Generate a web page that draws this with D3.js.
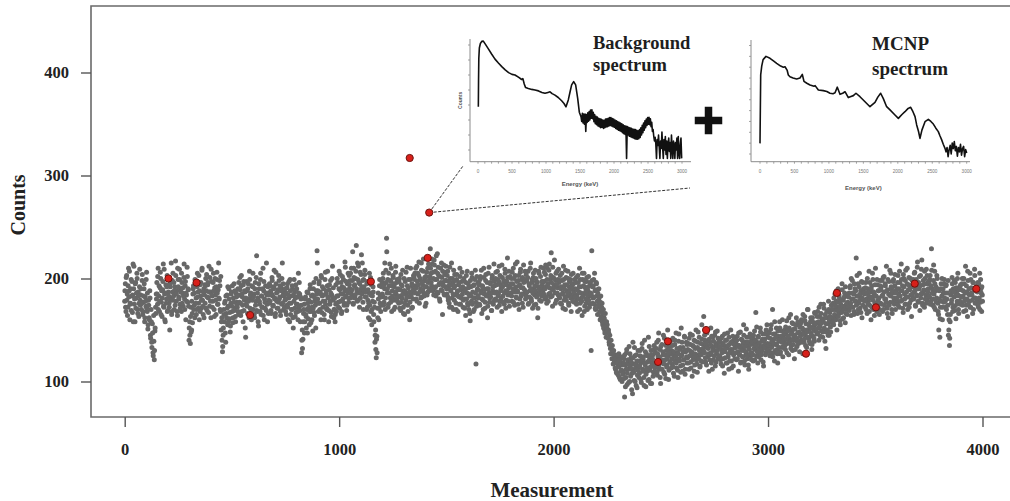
<!DOCTYPE html>
<html><head><meta charset="utf-8">
<script src="https://cdn.jsdelivr.net/npm/d3@7"></script>
<style>html,body{margin:0;padding:0;background:#fff;} svg{display:block;}</style>
</head><body>
<svg id="c" width="1010" height="501"></svg>
<script>
// ---------------- DATA ----------------
const MEAS_STEP = 3;   // measurements between successive samples in a row
const ROW_SPAN = 75;   // measurements covered by each row
// counts read for measurements r*75 + j*3
const countRows = [
[178,195,168,203,185,172,210,188,160,176,199,183,167,214,190,175,158,196,181,205,170,187,163,192,179],
[184,170,198,165,177,190,158,182,173,206,168,151,179,162,188,145,170,138,156,128,164,121,149,172,185],
[196,175,210,183,168,191,200,177,163,189,214,172,185,158,194,180,203,169,187,176,150,192,181,165,198],
[205,183,170,192,217,178,188,164,199,182,209,175,190,168,196,186,173,201,180,193,160,184,211,177,189],
[140,158,137,172,150,166,185,193,174,162,198,181,170,205,187,176,160,194,183,171,208,179,165,190,184],
[176,200,188,169,194,181,212,173,187,162,197,183,178,205,170,191,184,165,199,186,175,215,180,193,168],
[150,162,129,145,170,158,178,138,166,184,155,173,190,161,148,176,187,168,157,181,195,171,163,186,177],
[172,190,165,184,201,176,193,168,182,158,197,179,187,143,175,188,166,195,180,207,171,186,160,183,192],
[170,185,162,196,178,222,168,181,154,190,175,199,165,183,172,210,188,160,177,193,169,184,158,186,179],
[195,178,188,166,201,183,174,192,180,163,206,186,171,189,177,198,182,168,191,175,215,184,170,187,179],
[168,186,174,195,160,181,176,199,165,183,170,190,152,178,187,163,194,175,182,168,205,172,185,158,180],
[128,150,141,166,175,158,182,163,170,147,186,172,155,190,168,177,160,184,171,196,164,178,152,188,227],
[180,168,195,176,187,160,201,183,172,190,165,178,206,185,170,193,181,158,189,175,198,167,184,212,179],
[162,170,158,175,168,183,196,177,190,171,204,185,166,192,180,199,174,188,211,182,169,195,186,177,203],
[190,205,186,184,198,176,210,193,181,200,232,187,215,179,196,172,206,189,223,185,198,170,192,204,182],
[188,170,197,179,162,186,174,201,168,155,183,192,165,177,138,150,123,144,171,186,160,193,176,168,182],
[196,183,205,177,190,170,208,239,186,199,175,193,214,181,197,168,188,203,179,192,172,206,185,196,178],
[190,176,200,183,169,194,181,208,172,188,165,197,179,185,211,174,191,182,160,199,186,171,193,180,203],
[188,205,193,180,212,197,185,203,176,199,190,215,182,194,207,186,198,173,202,192,184,210,196,188,200],
[229,205,193,214,188,200,218,191,207,183,199,224,186,203,195,178,210,189,201,165,196,213,184,206,192],
[198,185,207,179,193,172,200,188,215,181,196,170,191,204,184,176,199,187,168,194,182,210,175,189,197],
[185,172,198,180,190,164,203,186,176,195,170,183,159,192,178,201,187,168,194,181,208,117,173,189,196],
[181,195,174,202,188,166,193,179,210,185,171,198,183,190,162,205,186,177,196,182,169,200,188,175,214],
[193,180,206,187,172,199,185,212,178,194,190,168,201,183,196,175,209,188,179,197,220,184,191,173,202],
[186,200,178,195,210,189,174,203,192,181,216,187,198,170,194,206,183,199,176,191,213,185,197,180,204],
[198,182,207,176,193,188,215,180,196,171,201,190,184,208,175,197,186,162,192,205,179,189,211,183,194],
[188,210,197,180,204,192,176,210,195,185,214,199,182,225,190,173,201,194,218,186,198,179,207,191,184],
[196,181,203,190,175,198,186,212,179,194,170,201,188,183,207,176,192,185,199,168,195,182,205,189,177],
[190,178,201,184,168,196,187,210,176,192,181,164,199,185,205,173,191,180,197,170,188,202,183,175,194],
[130,227,192,181,199,175,188,170,196,183,165,178,190,172,160,183,168,176,155,170,162,150,166,148,158],
[155,148,150,138,145,132,140,128,135,122,130,118,126,112,124,108,120,115,127,104,118,110,123,100,116],
[110,122,85,116,104,128,97,119,112,134,100,115,123,92,108,138,117,101,125,113,96,120,106,130,114],
[108,125,118,99,132,112,121,104,140,116,95,127,110,119,143,102,123,114,130,98,118,126,109,135,113],
[128,115,138,106,124,147,112,131,98,120,136,118,126,109,142,121,103,130,116,150,125,111,134,119,127],
[130,117,142,108,125,136,120,147,113,128,104,139,122,131,115,152,126,110,133,121,144,107,129,138,118],
[123,137,112,130,146,119,127,105,135,124,140,116,132,150,121,109,138,126,143,114,131,120,155,128,136],
[163,128,140,119,135,147,124,132,110,139,126,152,118,134,143,121,130,145,115,137,127,149,122,133,140],
[125,138,117,131,144,122,135,108,129,140,118,133,147,124,112,136,128,150,120,131,139,115,127,142,133],
[137,121,144,129,110,135,126,148,119,133,140,124,155,130,116,138,127,143,122,135,112,131,146,125,139],
[128,142,120,136,149,131,167,125,138,118,144,133,127,152,121,139,130,146,115,135,141,126,150,132,137],
[143,130,148,125,137,155,134,170,128,141,120,146,136,152,131,118,144,139,158,127,140,149,133,124,145],
[138,150,131,146,159,137,144,126,152,141,165,135,148,130,156,143,122,151,140,162,134,147,155,138,129],
[153,140,160,146,127,150,138,163,145,156,133,149,170,142,151,137,158,147,131,162,144,154,139,166,150],
[157,146,168,152,140,163,155,175,149,160,143,158,171,150,165,132,148,162,156,178,145,167,153,170,160],
[162,176,155,170,185,163,178,150,172,190,166,181,159,175,168,195,161,179,171,186,157,174,183,165,177],
[170,186,175,193,164,180,198,172,185,168,190,178,220,183,166,195,176,205,171,188,181,162,196,179,187],
[185,172,196,180,166,190,178,207,174,187,160,193,182,199,170,185,176,210,183,168,194,179,188,165,198],
[176,192,183,168,201,187,174,195,180,212,171,189,162,197,184,177,205,190,166,186,199,178,193,170,188],
[190,177,203,185,172,196,188,214,179,193,167,200,185,175,208,182,195,170,189,201,176,192,184,163,198],
[181,199,187,206,174,192,183,211,178,196,190,169,203,185,218,176,194,188,172,200,184,209,179,195,190],
[196,182,203,178,229,190,174,198,185,207,170,192,181,200,176,165,188,143,172,195,183,160,190,177,199],
[186,172,194,180,165,198,150,135,158,184,176,201,168,190,182,173,196,161,187,178,205,170,183,192,175],
[189,176,200,183,168,195,180,212,174,187,163,198,185,178,205,172,191,184,166,196,181,209,176,188,193],
[180,196,172,188,205,177,190,168,184]
];
// counts read for the in-between measurements r*75 + j*3 + 1
const countRowsOffset = [
[188,172,201,179,164,193,182,207,175,190,169,197,184,158,212,180,195,171,186,200,166,183,176,209,174],
[190,176,204,168,183,195,162,178,199,171,186,155,174,160,181,142,158,133,147,125,139,130,152,166,180],
[185,202,170,193,178,206,165,188,181,197,173,209,160,186,176,192,168,201,183,172,195,179,215,168,187],
[179,196,188,174,203,185,168,210,192,180,199,171,187,205,176,191,183,214,170,197,186,178,202,190,173],
[152,145,163,148,178,157,190,170,186,199,176,165,192,182,171,203,188,168,196,179,210,173,187,162,194],
[193,171,204,182,196,167,187,201,178,209,184,172,196,188,163,200,179,192,206,175,189,181,198,170,202],
[158,140,134,152,165,176,147,183,162,171,192,158,180,167,154,185,173,193,162,177,169,188,158,182,174],
[183,168,196,177,189,164,203,185,174,194,169,188,152,181,197,173,190,178,162,199,184,170,193,179,205],
[182,165,190,174,201,169,186,158,195,178,168,205,183,172,190,164,197,180,171,186,215,175,192,166,184],
[176,193,169,185,198,173,190,208,181,166,195,178,187,171,203,180,193,164,188,200,176,195,183,172,190],
[180,165,191,172,184,197,158,188,176,170,193,162,184,199,171,181,167,190,175,160,186,196,169,182,174],
[140,132,158,170,147,180,165,152,187,176,161,179,168,194,157,183,172,149,190,167,181,174,200,185,215],
[188,176,197,170,185,203,167,192,178,184,160,199,175,188,171,207,182,169,194,178,186,163,200,181,191],
[170,181,165,194,176,200,183,172,207,189,178,196,168,202,185,191,176,216,183,197,174,189,205,181,194],
[198,181,210,189,226,175,201,194,184,207,190,178,199,212,186,195,181,204,192,215,177,199,188,208,187],
[182,195,172,189,176,205,160,184,194,170,178,187,158,172,145,131,141,128,162,180,171,199,183,174,192],
[185,200,174,194,215,181,196,226,190,172,205,186,198,177,210,193,183,201,170,195,187,212,181,199,189],
[182,197,171,189,204,177,193,185,166,200,188,175,206,182,193,168,199,187,177,210,183,195,172,189,201],
[199,186,210,191,178,205,194,216,187,200,181,208,196,189,219,183,201,192,176,206,197,187,214,190,202],
[210,196,219,190,206,184,213,199,192,222,187,205,211,194,180,202,196,215,188,207,193,185,204,198,212],
[190,203,182,197,176,211,189,194,172,200,185,208,179,193,198,170,204,188,183,196,175,202,190,181,206],
[192,179,200,171,188,196,180,207,174,191,185,166,198,183,205,175,193,181,170,199,186,177,202,190,183],
[194,175,199,186,208,180,192,170,201,189,177,204,184,196,173,190,211,181,195,186,169,203,192,178,197],
[186,200,179,194,207,183,197,174,203,188,181,213,192,177,198,186,205,171,194,188,201,178,207,193,185],
[195,183,206,190,177,200,187,214,182,197,188,175,203,193,180,209,191,185,201,172,196,189,207,184,199],
[187,201,175,195,182,210,190,178,199,186,205,174,193,188,200,182,196,171,207,190,185,202,178,197,191],
[197,185,206,190,213,182,199,193,178,208,191,186,203,196,183,211,189,200,192,176,205,194,186,199,209],
[183,198,176,192,205,185,171,199,190,182,208,179,194,186,200,174,197,189,181,204,192,178,195,186,199],
[182,196,175,189,203,180,192,170,199,186,178,205,183,193,168,197,187,176,201,184,192,179,172,196,186],
[185,198,176,193,182,205,171,189,195,178,186,174,181,168,177,163,172,158,166,152,161,147,158,143,152],
[150,142,147,136,140,127,134,122,130,117,126,120,113,122,109,118,125,106,114,121,102,117,111,124,107],
[118,103,126,95,112,131,108,121,99,116,127,105,119,112,88,123,109,133,100,117,126,94,111,120,104],
[115,130,102,121,137,110,124,96,118,129,107,113,125,101,120,134,111,98,126,115,122,105,131,117,109],
[118,132,109,127,140,115,124,104,134,121,112,129,145,117,107,126,135,114,122,131,102,128,119,139,113],
[122,135,114,129,105,140,124,118,132,111,127,146,120,133,109,125,138,116,129,121,143,112,130,124,136],
[131,118,142,125,136,113,129,145,121,134,110,127,139,124,117,133,148,122,130,115,137,126,141,119,132],
[129,145,123,137,116,133,150,127,141,121,136,128,144,112,131,139,125,134,148,119,135,130,142,124,138],
[134,121,142,128,115,137,130,146,123,132,140,118,135,127,143,120,131,138,113,129,144,126,136,122,133],
[128,140,122,135,147,126,133,118,141,130,124,137,145,120,134,129,151,125,138,116,132,143,127,136,121],
[138,126,145,132,121,140,135,153,129,143,124,137,131,148,126,134,141,119,139,133,146,128,136,155,130],
[135,147,129,142,151,133,139,124,146,137,158,130,143,136,127,149,140,133,152,129,144,138,160,134,141],
[147,135,153,141,128,149,144,162,138,150,132,146,157,140,136,151,145,131,155,142,139,158,137,148,153],
[144,157,138,152,165,146,141,159,135,150,148,170,143,155,139,153,162,145,136,158,151,142,167,149,156],
[151,163,147,158,172,153,144,166,157,161,148,175,152,139,162,156,168,150,145,170,159,163,148,174,157],
[170,158,181,165,174,160,188,169,177,163,184,171,155,179,167,189,173,162,182,170,192,166,176,184,172],
[182,169,191,176,200,172,186,180,165,195,178,188,174,203,183,170,192,179,185,167,197,181,174,190,186],
[178,191,170,186,200,175,183,168,196,181,190,172,205,179,187,164,194,183,176,199,172,188,181,170,193],
[189,175,198,184,170,202,180,193,177,188,166,199,185,174,208,183,192,170,187,197,181,175,204,186,179],
[181,196,174,190,207,183,178,199,188,171,204,192,180,198,175,187,210,182,194,172,189,200,179,193,185],
[192,180,205,188,173,199,184,216,190,177,202,193,181,209,186,174,198,189,207,180,195,176,203,187,197],
[183,199,175,193,208,186,180,213,172,195,188,177,203,190,168,150,180,161,190,178,200,172,186,195,181],
[178,193,170,186,174,145,160,142,165,188,179,195,172,187,198,169,183,191,175,200,184,166,189,178,194],
[182,195,174,188,200,178,186,169,193,180,207,175,190,184,172,199,186,179,196,170,188,203,181,192,177],
[187,174,195,181,170,199,186,192,178]
];
// highlighted (red) measurements: [measurement, counts]
const highlighted = [[204,200],[335,196],[585,164.5],[1148,197],[1329,317],[1413,220],[1420,264],
  [2487,119],[2533,139],[2711,150],[3177,127],[3321,186],[3503,172],[3684,195],[3971,190]];
const linkedPoint = [1420,264];
const xTicks = [0,1000,2000,3000,4000];
const yTicks = [100,200,300,400];

// inset spectra: [energy keV, log10 counts]
const backgroundSpectrum = [[5,2.44],[8,3.3],[12,4.06],[20,4.4],[35,4.55],[55,4.62],[78,4.63],[110,4.52],[150,4.38],[200,4.2],
 [250,4.03],[300,3.9],[350,3.78],[400,3.67],[450,3.58],[500,3.52],[544,3.5],[600,3.42],[642,3.35],[660,3.38],[680,3.2],[700,3.08],
 [740,3.05],[790,3.02],[838,3.0],[890,2.97],[940,2.92],[985,2.89],[1030,2.92],[1059,2.94],[1090,2.88],[1132,2.83],[1180,2.75],
 [1230,2.64],[1265,2.55],[1294,2.44],[1328,2.67],[1355,2.95],[1377,3.17],[1407,3.28],[1436,3.17],[1466,2.72],[1490,2.26],[1515,2.11],
 [1525,1.95],[1535,2.22],[1545,1.9],[1555,2.2],[1565,1.86],[1575,2.2],[1585,1.62],[1595,2.18],[1605,1.92],[1615,2.24],[1625,1.96],
 [1635,2.28],[1645,2.0],[1655,2.33],[1665,2.06],[1675,2.34],[1685,2.04],[1695,2.26],[1705,1.94],[1715,2.18],[1725,1.88],[1735,2.12],
 [1745,1.84],[1755,2.1],[1765,1.8],[1775,2.06],[1785,1.78],[1795,2.04],[1805,1.74],[1815,2.02],[1825,1.76],[1835,2.0],[1845,1.72],
 [1855,1.99],[1865,1.74],[1875,2.03],[1885,1.77],[1895,2.04],[1905,1.78],[1915,2.06],[1925,1.8],[1935,2.08],[1945,1.82],[1955,2.08],
 [1965,1.8],[1975,2.05],[1985,1.78],[1995,2.03],[2005,1.76],[2015,2.0],[2025,1.72],[2035,1.97],[2045,1.69],[2055,1.95],[2065,1.66],
 [2075,1.92],[2085,1.64],[2095,1.9],[2105,1.62],[2115,1.87],[2125,1.58],[2135,1.84],[2145,1.54],[2155,1.81],[2165,1.52],[2175,1.8],
 [2185,0.72],[2195,1.78],[2205,1.5],[2215,1.76],[2225,1.46],[2235,1.74],[2245,1.44],[2255,1.72],[2265,1.42],[2275,1.7],[2285,1.4],
 [2295,1.69],[2305,1.38],[2315,1.68],[2325,1.36],[2335,1.66],[2345,1.36],[2355,1.64],[2365,1.38],[2375,1.68],[2385,1.42],[2395,1.74],
 [2405,1.5],[2415,1.82],[2425,1.58],[2435,1.9],[2445,1.66],[2455,1.97],[2465,1.74],[2475,2.03],[2485,1.82],[2495,2.08],[2505,1.86],
 [2515,2.09],[2525,1.84],[2535,2.04],[2545,1.78],[2555,1.92],[2565,1.62],[2575,1.68],[2585,1.45],[2595,1.3],[2605,1.42],[2615,1.2],
 [2625,0.72],[2635,1.35],[2645,1.15],[2655,1.5],[2665,1.1],[2675,0.72],[2685,1.3],[2695,1.05],[2705,1.6],[2715,1.1],[2725,0.72],
 [2735,1.35],[2745,1.0],[2755,1.45],[2765,0.85],[2775,1.3],[2785,0.72],[2795,1.2],[2805,1.4],[2815,0.95],[2825,1.25],[2835,0.72],
 [2845,1.5],[2855,1.05],[2865,0.72],[2875,1.3],[2885,1.15],[2895,0.72],[2905,1.25],[2915,1.0],[2925,1.4],[2935,0.72],[2945,1.45],
 [2955,0.9],[2965,0.72],[2975,1.2],[2985,1.4],[2995,0.72]];
const mcnpSpectrum = [[0,1.49],[10,4.64],[25,5.05],[45,5.35],[87,5.5],[145,5.41],[200,5.28],[242,5.18],[300,5.05],[339,5.0],
 [363,5.02],[395,4.85],[411,4.64],[435,4.56],[480,4.5],[532,4.46],[580,4.5],[614,4.67],[638,4.35],[680,4.26],[726,4.18],[784,4.12],
 [800,4.15],[847,3.95],[919,3.92],[970,3.88],[1016,3.8],[1060,3.78],[1089,3.82],[1122,4.08],[1161,3.75],[1200,3.8],[1234,3.87],
 [1282,3.6],[1320,3.65],[1355,3.69],[1393,3.8],[1451,3.64],[1524,3.41],[1596,3.18],[1669,3.38],[1710,3.62],[1751,3.8],[1790,3.55],
 [1838,3.18],[1887,3.03],[1959,2.8],[2008,2.64],[2060,2.82],[2104,2.95],[2150,3.1],[2187,3.15],[2220,2.95],[2250,2.72],[2274,2.34],
 [2300,2.05],[2322,1.72],[2350,2.1],[2395,2.49],[2443,2.6],[2480,2.5],[2516,2.38],[2550,2.2],[2588,2.03],[2610,1.85],[2637,1.65],
 [2660,1.45],[2685,1.26],[2700,1.1],[2715,1.3],[2730,0.88],[2745,1.2],[2760,1.4],[2775,1.0],[2790,1.5],[2805,1.25],[2820,1.57],
 [2835,1.15],[2850,1.35],[2865,0.9],[2880,1.3],[2895,1.1],[2910,1.45],[2925,0.95],[2940,1.25],[2955,1.35],[2970,0.88],[2985,1.2],[3000,1.05]];
const energyTicks = [0,500,1000,1500,2000,2500,3000];

// ---------------- LAYOUT ----------------
const SERIF = "'Liberation Serif','Times New Roman',serif";
const SANS = "'Liberation Sans',Arial,sans-serif";
const frame = {left:91, top:6, bottom:417, right:1014};
const svg = d3.select('#c');
const x = d3.scaleLinear().domain([0,4000]).range([124.7,982.5]);
const y = d3.scaleLinear().domain([100,400]).range([381.5,72.5]);

svg.append('path')
  .attr('d',`M${frame.right},${frame.top}H${frame.left}V${frame.bottom}H${frame.right}`)
  .attr('fill','none').attr('stroke','#6a6a6a').attr('stroke-width',1.6);

const gy = svg.append('g').attr('transform',`translate(${frame.left},0)`)
  .call(d3.axisLeft(y).tickValues(yTicks).tickSize(10).tickPadding(12).tickFormat(d3.format('d')));
gy.select('.domain').remove();
gy.selectAll('line').attr('stroke','#555').attr('stroke-width',1.4);
gy.selectAll('text').attr('font-family',SERIF).attr('font-weight','bold').attr('font-size',16.5).attr('fill','#222');

const gx = svg.append('g').attr('transform',`translate(0,${frame.bottom})`)
  .call(d3.axisBottom(x).tickValues(xTicks).tickSize(10).tickPadding(16).tickFormat(d3.format('d')));
gx.select('.domain').remove();
gx.selectAll('line').attr('stroke','#555').attr('stroke-width',1.4);
gx.selectAll('text').attr('font-family',SERIF).attr('font-weight','bold').attr('font-size',16.5).attr('fill','#222');

svg.append('text').attr('transform','translate(25,205) rotate(-90)').attr('text-anchor','middle')
  .attr('font-family',SERIF).attr('font-weight','bold').attr('font-size',20).attr('fill','#222').text('Counts');
svg.append('text').attr('x',552).attr('y',497).attr('text-anchor','middle')
  .attr('font-family',SERIF).attr('font-weight','bold').attr('font-size',21).attr('fill','#222').text('Measurement');

// scatter
const toSamples = (rows, offset) => rows.flatMap((row,r)=>row.map((v,j)=>({m:r*ROW_SPAN+j*MEAS_STEP+offset, v})));
const samples = toSamples(countRows,0).concat(toSamples(countRowsOffset,1));
svg.append('g').selectAll('circle').data(samples).join('circle')
  .attr('cx',d=>x(d.m)).attr('cy',d=>y(d.v)).attr('r',2.5).attr('fill','#676767');

// callout lines
const calloutEnds = [[463,166],[690,188]];
svg.append('g').selectAll('line').data(calloutEnds).join('line')
  .attr('x1',x(linkedPoint[0])).attr('y1',y(linkedPoint[1]))
  .attr('x2',d=>d[0]).attr('y2',d=>d[1])
  .attr('stroke','#333').attr('stroke-width',1).attr('stroke-dasharray','3,1.5');

svg.append('g').selectAll('circle').data(highlighted).join('circle')
  .attr('cx',d=>x(d[0])).attr('cy',d=>y(d[1])).attr('r',3.6)
  .attr('fill','#d8201a').attr('stroke','#6e1410').attr('stroke-width',1);

// insets
function drawInset(cfg){
  const g = svg.append('g');
  const ix = d3.scaleLinear().domain([0,3000]).range(cfg.xr);
  const iy = d3.scaleLinear().domain([1,2]).range([cfg.y1, cfg.y1-cfg.decade]);
  g.append('path').attr('d',`M${cfg.axisX},${cfg.top}V${cfg.axisY}H${cfg.right}`)
    .attr('fill','none').attr('stroke','#8c8c8c').attr('stroke-width',1);
  g.selectAll('.bt').data(d3.range(0,3001,100)).join('line')
    .attr('x1',d=>ix(d)).attr('x2',d=>ix(d)).attr('y1',cfg.axisY).attr('y2',cfg.axisY+2)
    .attr('stroke','#8c8c8c').attr('stroke-width',0.8);
  const lmin = iy.invert(cfg.axisY), lmax = iy.invert(cfg.top);
  const lt = d3.range(Math.ceil(lmin*2)/2, lmax, 0.5);
  g.selectAll('.lt').data(lt).join('line')
    .attr('x1',cfg.axisX-2).attr('x2',cfg.axisX).attr('y1',d=>iy(d)).attr('y2',d=>iy(d))
    .attr('stroke','#8c8c8c').attr('stroke-width',0.8);
  g.selectAll('.tl').data(energyTicks).join('text')
    .attr('x',d=>ix(d)).attr('y',cfg.axisY+11).attr('text-anchor','middle')
    .attr('font-family',SANS).attr('font-size',4.6).attr('fill','#777').text(d=>d);
  g.append('text').attr('x',(cfg.xr[0]+cfg.xr[1])/2).attr('y',cfg.labelY).attr('text-anchor','middle')
    .attr('font-family',SANS).attr('font-weight','bold').attr('font-size',6).attr('fill','#555').text('Energy (keV)');
  if(cfg.countsLabel){
    g.append('text').attr('transform',`translate(${cfg.axisX-8},${(cfg.top+cfg.axisY)/2}) rotate(-90)`)
      .attr('text-anchor','middle').attr('font-family',SANS).attr('font-weight','bold').attr('font-size',5).attr('fill','#555').text('Counts');
  }
  g.append('path').datum(cfg.data)
    .attr('d',d3.line().x(d=>ix(d[0])).y(d=>iy(d[1])))
    .attr('fill','none').attr('stroke','#111').attr('stroke-width',1.6).attr('stroke-linejoin','round');
  cfg.title.forEach((t,i)=>{
    g.append('text').attr('x',cfg.titleX).attr('y',cfg.titleY[i])
      .attr('font-family',SERIF).attr('font-weight','bold').attr('font-size',cfg.titleSize).attr('fill','#1e1e1e').text(t);
  });
}
drawInset({data:backgroundSpectrum, xr:[478,682], y1:150, decade:30, axisX:470, axisY:161.7, top:39, right:691,
  labelY:186, countsLabel:true, title:['Background','spectrum'], titleX:593, titleY:[49,70.5], titleSize:18.5});
drawInset({data:mcnpSpectrum, xr:[760,966.7], y1:154, decade:21.7, axisX:751, axisY:161.7, top:40, right:970,
  labelY:190, countsLabel:false, title:['MCNP','spectrum'], titleX:872, titleY:[50,75], titleSize:19});

// plus sign between the insets
const plus = {cx:708.5, cy:120.5, len:27.5, thick:7.5};
svg.append('rect').attr('x',plus.cx-plus.len/2).attr('y',plus.cy-plus.thick/2).attr('width',plus.len).attr('height',plus.thick).attr('fill','#111');
svg.append('rect').attr('x',plus.cx-plus.thick/2).attr('y',plus.cy-plus.len/2).attr('width',plus.thick).attr('height',plus.len).attr('fill','#111');
</script></body></html>
